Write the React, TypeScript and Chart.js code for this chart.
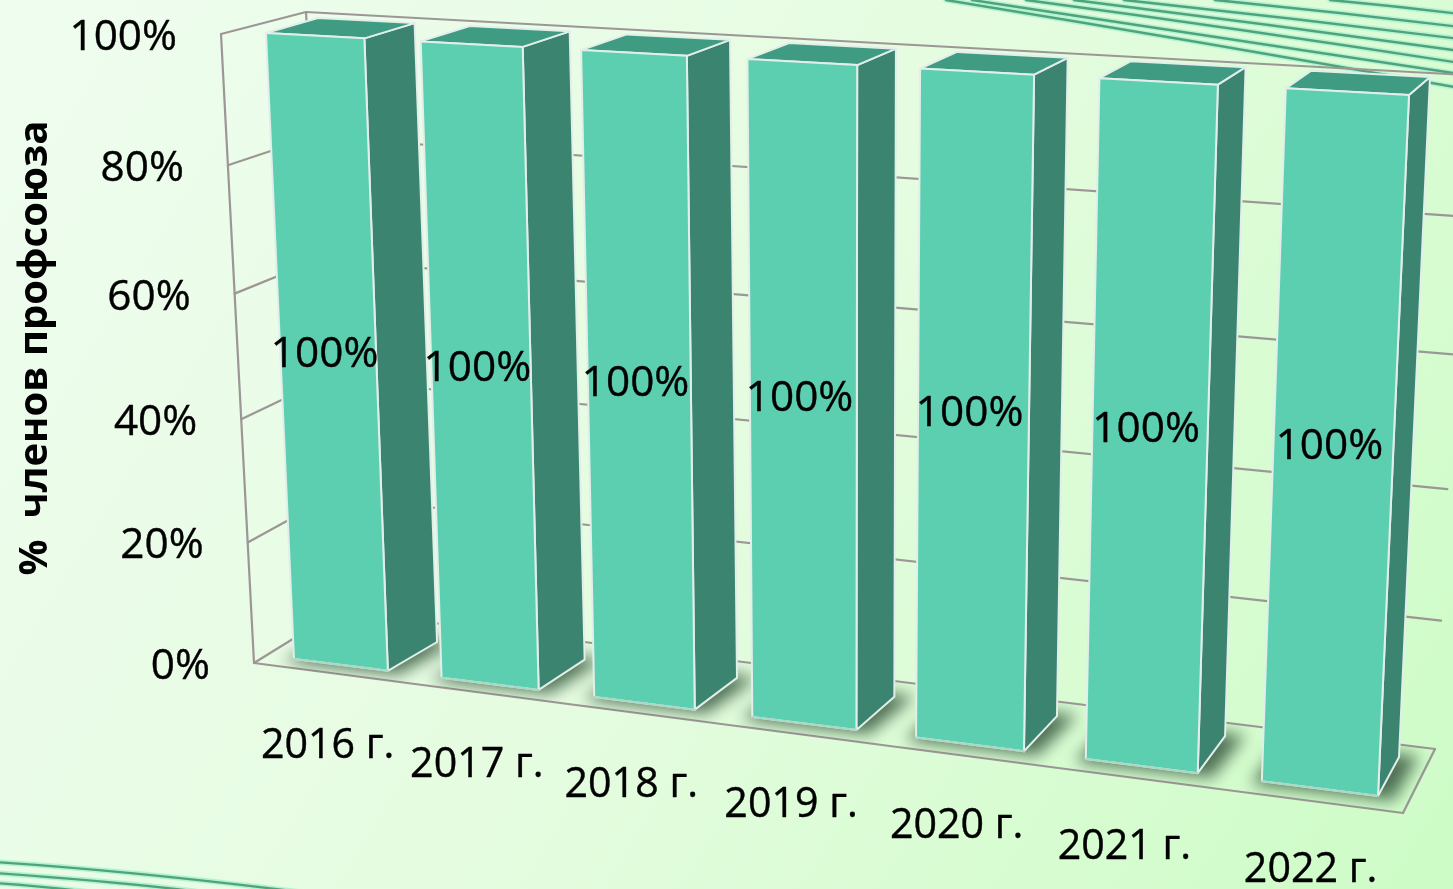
import React, { useEffect, useRef } from "react";
import { Chart, registerables } from "chart.js";

Chart.register(...registerables);

// ---- data ----
const years = ["2016 г.", "2017 г.", "2018 г.", "2019 г.", "2020 г.", "2021 г.", "2022 г."];
const memberShare = [1, 1, 1, 1, 1, 1, 1];
const yTickValues = [0, 0.2, 0.4, 0.6, 0.8, 1];
const axisTitle = "%  членов профсоюза";

// ---- perspective set-up (style, not data): image corners of each plane ----
type P = [number, number];
const BAR_FRACTION = 0.64;
const FONT = '"Open Sans", sans-serif';
// [bottom-left, bottom-right, top-right, top-left]
const BAR_FRONT: P[] = [[294, 659], [1378, 796], [1409, 95], [266, 33]];
const BAR_BACK: P[] = [[345, 631], [1399, 757], [1430, 77], [318, 18]];
const WALL_BACK: P[] = [[338, 611], [1435, 749], [1467, 75], [306, 12]];
const WALL_FRONT: P[] = [[254, 663], [1403, 813], [1437, 97], [221, 34]];
const LABEL_NUDGE = [0, 0, 0, 0, 0, -4, 4];

function homography(q: P[]) {
  const [[x0, y0], [x1, y1], [x2, y2], [x3, y3]] = q;
  const dx1 = x1 - x2, dx2 = x3 - x2, sx = x0 - x1 + x2 - x3;
  const dy1 = y1 - y2, dy2 = y3 - y2, sy = y0 - y1 + y2 - y3;
  const det = dx1 * dy2 - dx2 * dy1;
  const g = (sx * dy2 - dx2 * sy) / det;
  const h = (dx1 * sy - sx * dy1) / det;
  const a = x1 - x0 + g * x1, b = x3 - x0 + h * x3;
  const d = y1 - y0 + g * y1, e = y3 - y0 + h * y3;
  return (s: number, t: number): P => {
    const w = g * s + h * t + 1;
    return [(a * s + b * t + x0) / w, (d * s + e * t + y0) / w];
  };
}

function poly(ctx: CanvasRenderingContext2D, pts: P[]) {
  ctx.beginPath();
  pts.forEach((p, i) => (i ? ctx.lineTo(p[0], p[1]) : ctx.moveTo(p[0], p[1])));
  ctx.closePath();
}
function seg(ctx: CanvasRenderingContext2D, a: P, b: P) {
  ctx.beginPath();
  ctx.moveTo(a[0], a[1]);
  ctx.lineTo(b[0], b[1]);
  ctx.stroke();
}
function label(ctx: CanvasRenderingContext2D, t: string, x: number, y: number) {
  ctx.lineWidth = 0.4;
  ctx.strokeStyle = "#000";
  ctx.strokeText(t, x, y);
  ctx.fillText(t, x, y);
}

// decorative stripes of the slide background: [x0,y0, cx,cy, x1,y1]
const stripes = [
  [946, 0, 1203, 42, 1460, 88],
  [972, 0, 1216, 36, 1460, 74],
  [1026, 0, 1243, 29, 1460, 63],
  [1074, 0, 1267, 24, 1460, 51],
  [1124, 0, 1292, 18, 1460, 39],
  [1215, 0, 1337, 12, 1460, 27],
  [1330, 0, 1395, 6, 1460, 14],
  [-5, 862, 133, 871, 300, 892],
  [-5, 873, 133, 883, 200, 892],
  [-5, 883, 40, 886, 90, 892],
];

const perspectivePlugin = {
  id: "perspective",
  beforeDraw(chart: any) {
    const { ctx, width, height } = chart;
    const g = ctx.createLinearGradient(0, 0, width, height);
    g.addColorStop(0, "#effdef");
    g.addColorStop(0.5, "#e5fce0");
    g.addColorStop(1, "#cdfcc6");
    ctx.save();
    ctx.fillStyle = g;
    ctx.fillRect(0, 0, width, height);
    ctx.lineCap = "round";
    for (const s of stripes) {
      ctx.beginPath();
      ctx.moveTo(s[0], s[1]);
      ctx.quadraticCurveTo(s[2], s[3], s[4], s[5]);
      ctx.strokeStyle = "#b4f3d0";
      ctx.lineWidth = 5.5;
      ctx.stroke();
      ctx.strokeStyle = "#4fa37c";
      ctx.lineWidth = 2.4;
      ctx.stroke();
    }
    ctx.restore();
  },
  afterDraw(chart: any) {
    const { ctx, chartArea: ca, scales } = chart;
    const bars = chart.getDatasetMeta(0).data;
    const toU = (px: number) => (px - ca.left) / (ca.right - ca.left);
    const toV = (py: number) => (ca.bottom - py) / (ca.bottom - ca.top);
    const uMin = toU(bars[0].x - bars[0].width / 2);
    const uMax = toU(bars[bars.length - 1].x + bars[bars.length - 1].width / 2);
    const norm = (u: number) => (u - uMin) / (uMax - uMin);
    const fF = homography(BAR_FRONT);
    const fB = homography(BAR_BACK);
    const front = (u: number, v: number) => fF(norm(u), v);
    const back = (u: number, v: number) => fB(norm(u), v);
    const wallB = homography(WALL_BACK);
    const wallF = homography(WALL_FRONT);

    ctx.save();
    // walls and floor
    ctx.strokeStyle = "#9c9696";
    ctx.lineWidth = 2.2;
    ctx.lineCap = "round";
    for (const value of yTickValues) {
      const v = toV(scales.y.getPixelForValue(value));
      seg(ctx, wallF(0, v), wallB(0, v));
      seg(ctx, wallB(0, v), wallB(1, v));
    }
    seg(ctx, wallF(0, 0), wallF(0, 1));
    seg(ctx, wallB(0, 0), wallB(0, 1));
    seg(ctx, wallF(0, 0), wallF(1, 0));
    seg(ctx, wallF(1, 0), wallB(1, 0));

    // floor shadows: blurred, slightly enlarged footprints clipped to the floor
    ctx.save();
    poly(ctx, [wallF(0, 0), wallF(1, 0), wallB(1, 0), wallB(0, 0)]);
    ctx.clip();
    ctx.filter = "blur(8px)";
    ctx.fillStyle = "rgba(72,105,78,0.95)";
    bars.forEach((b: any) => {
      const uL = toU(b.x - b.width / 2), uR = toU(b.x + b.width / 2), v0 = toV(b.base);
      const foot = [front(uL, v0), front(uR, v0), back(uR, v0), back(uL, v0)];
      const cx = foot.reduce((s, p) => s + p[0], 0) / 4;
      const cy = foot.reduce((s, p) => s + p[1], 0) / 4;
      poly(ctx, foot.map((p) => [cx + (p[0] - cx) * 1.22 + 5, cy + (p[1] - cy) * 1.14 + 1] as P));
      ctx.fill();
    });
    ctx.filter = "none";
    ctx.restore();

    // bars, left to right
    ctx.lineJoin = "round";
    bars.forEach((b: any) => {
      const uL = toU(b.x - b.width / 2), uR = toU(b.x + b.width / 2);
      const v0 = toV(b.base), v1 = toV(b.y);
      const faces: [P[], string][] = [
        [[front(uR, v0), back(uR, v0), back(uR, v1), front(uR, v1)], "#3b8570"],
        [[front(uL, v1), front(uR, v1), back(uR, v1), back(uL, v1)], "#3f9b82"],
        [[front(uL, v0), front(uR, v0), front(uR, v1), front(uL, v1)], "#5ccfb0"],
      ];
      for (const [pts, fill] of faces) {
        poly(ctx, pts);
        ctx.fillStyle = fill;
        ctx.fill();
        ctx.strokeStyle = "#e2eeea";
        ctx.lineWidth = 2;
        ctx.stroke();
      }
      // softer edge along the bottom of the front face
      ctx.strokeStyle = "#a9d8c6";
      ctx.lineWidth = 2;
      seg(ctx, front(uL, v0), front(uR, v0));
    });

    // texts
    ctx.fillStyle = "#000";
    ctx.font = `42.3px ${FONT}`;
    ctx.textBaseline = "middle";
    ctx.textAlign = "right";
    for (const value of yTickValues) {
      const p = wallF(0, toV(scales.y.getPixelForValue(value)));
      label(ctx, `${Math.round(value * 100)}%`, p[0] - 44, p[1] + 4);
    }
    ctx.textAlign = "center";
    bars.forEach((b: any, i: number) => {
      const v0 = toV(b.base), v1 = toV(b.y);
      const c = front(toU(b.x), (v0 + v1) / 2);
      label(ctx, `${Math.round(memberShare[i] * 100)}%`, c[0] - 3.5, c[1] - 3);
    });
    ctx.font = `41.2px ${FONT}`;
    bars.forEach((b: any, i: number) => {
      const f = front(toU(b.x), toV(b.base));
      label(ctx, years[i], f[0] - 13 + LABEL_NUDGE[i], f[1] + 81.5);
    });
    ctx.save();
    ctx.translate(36, 348);
    ctx.rotate(-Math.PI / 2);
    ctx.font = `bold 40px ${FONT}`;
    ctx.fillText(axisTitle, 0, 0);
    ctx.restore();
    ctx.restore();
  },
};

export default function App() {
  const ref = useRef<HTMLCanvasElement>(null);
  useEffect(() => {
    const chart = new Chart(ref.current!, {
      type: "bar",
      data: {
        labels: years,
        datasets: [
          {
            label: axisTitle,
            data: memberShare,
            backgroundColor: "rgba(0,0,0,0)",
            borderWidth: 0,
            barPercentage: BAR_FRACTION,
            categoryPercentage: 1,
          },
        ],
      },
      options: {
        responsive: false,
        animation: false,
        events: [],
        layout: { padding: 0 },
        plugins: { legend: { display: false }, title: { display: false }, tooltip: { enabled: false } },
        scales: {
          x: { display: false, offset: true },
          y: { display: false, min: 0, max: 1 },
        },
      },
      plugins: [perspectivePlugin],
    } as any);
    return () => chart.destroy();
  }, []);
  return (
    <div style={{ position: "fixed", left: 0, top: 0, width: 1453, height: 889, overflow: "hidden" }}>
      <canvas ref={ref} width={1453} height={889} style={{ display: "block" }} />
    </div>
  );
}
